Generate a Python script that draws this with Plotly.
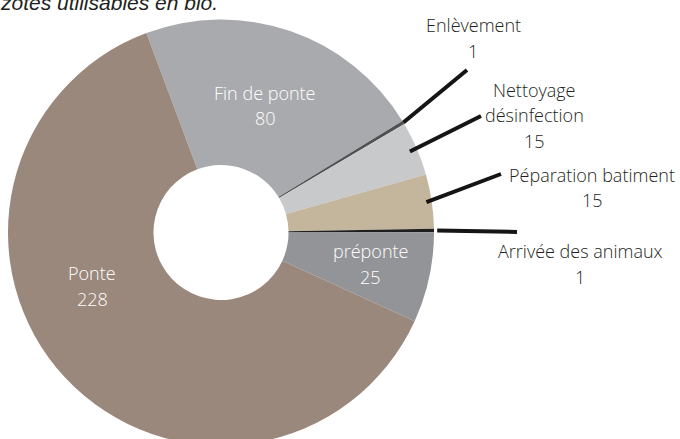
import math
import plotly.graph_objects as go

# ---- data ----
labels = ["Fin de ponte", "Enlèvement", "Nettoyage désinfection", "Péparation batiment",
          "Arrivée des animaux", "préponte", "Ponte"]
values = [80, 1, 15, 15, 1, 25, 228]
title_text = "zotes utilisables en bio."

# ---- style / layout ----
colors = ["#a9aaad", "#4f5052", "#c8c9cb", "#c4b59d", "#1e1e1e", "#939497", "#9b887c"]
W, H = 680, 450
CX, CY, R = 221, 232.5, 213
HOLE = 0.317
ROT = -20.5
FONT = "Open Sans"
FS = 18
FW = 300

# label line blocks (pixel centre x, first-line y), lines split for display
label_lines = {
    "Fin de ponte": (["Fin de ponte"], 265, 93, "white"),
    "Enlèvement": (["Enlèvement"], 473, 25, "#231f20"),
    "Nettoyage désinfection": (["Nettoyage", "désinfection"], 534, 90, "#231f20"),
    "Péparation batiment": (["Péparation batiment"], 592, 175, "#231f20"),
    "Arrivée des animaux": (["Arrivée des animaux"], 580, 251, "#231f20"),
    "préponte": (["préponte"], 371, 251, "white"),
    "Ponte": (["Ponte"], 92, 273, "white"),
}
LINE_GAP = 25.5
# leader line outer ends (pixels) and start radius factor
leader_ends = {
    "Enlèvement": ((467, 70), 1.0),
    "Nettoyage désinfection": ((481, 116), 0.965),
    "Péparation batiment": ((501, 174), 0.975),
    "Arrivée des animaux": ((517, 232), 1.015),
}


def px(x):
    return x / W


def py(y):
    return 1 - y / H


fig = go.Figure(go.Pie(
    labels=labels, values=values, sort=False, direction="clockwise",
    rotation=ROT, hole=HOLE, textinfo="none", hoverinfo="label+value",
    marker=dict(colors=colors, line=dict(width=0)),
    domain=dict(x=[px(CX - R), px(CX + R)], y=[py(CY + R), py(CY - R)]),
    showlegend=False,
))

annotations = []
for lab, val in zip(labels, values):
    lines, x, y0, col = label_lines[lab]
    all_lines = lines + [str(val)]
    for i, t in enumerate(all_lines):
        annotations.append(dict(
            text=t, x=px(x), y=py(y0 + i * LINE_GAP), xref="paper", yref="paper",
            xanchor="center", yanchor="middle", showarrow=False,
            font=dict(family=FONT, size=FS, color=col, weight=FW)))

annotations.append(dict(
    text="<i>" + title_text + "</i>", x=px(-2), y=py(2), xref="paper", yref="paper",
    xanchor="left", yanchor="middle", showarrow=False,
    font=dict(family="Liberation Sans", size=21, color="#231f20")))

# leader lines from slice mid-angles
total = sum(values)
shapes = []
cum = 0
for lab, val in zip(labels, values):
    mid = ROT + (cum + val / 2) / total * 360
    cum += val
    if lab in leader_ends:
        (ex, ey), f = leader_ends[lab]
        a = math.radians(mid)
        sx = CX + R * f * math.sin(a)
        sy = CY - R * f * math.cos(a)
        shapes.append(dict(type="line", xref="paper", yref="paper",
                           x0=px(sx), y0=py(sy), x1=px(ex), y1=py(ey),
                           line=dict(color="#151515", width=4)))

fig.update_layout(
    width=W, height=H, margin=dict(l=0, r=0, t=0, b=0),
    paper_bgcolor="white", plot_bgcolor="white",
    annotations=annotations, shapes=shapes,
)

fig.write_html("out.html", config={"displayModeBar": False},
               post_script="document.body.style.margin='0';document.body.style.overflow='hidden';")
